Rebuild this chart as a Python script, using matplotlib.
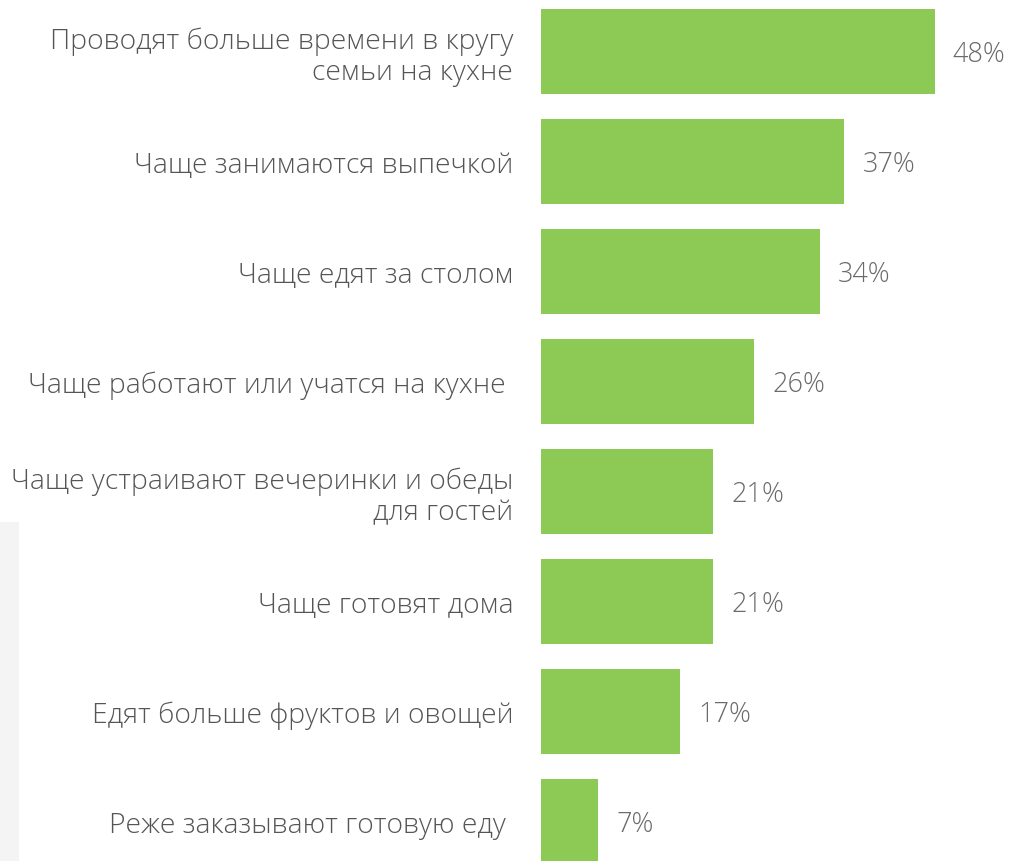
import matplotlib
matplotlib.use("Agg")
import matplotlib.pyplot as plt
from matplotlib.patches import Rectangle

categories = [
    "Проводят больше времени в кругу\nсемьи на кухне",
    "Чаще занимаются выпечкой",
    "Чаще едят за столом",
    "Чаще работают или учатся на кухне ",
    "Чаще устраивают вечеринки и обеды\nдля гостей",
    "Чаще готовят дома",
    "Едят больше фруктов и овощей",
    "Реже заказывают готовую еду ",
]
values = [48, 37, 34, 26, 21, 21, 17, 7]
value_labels = ["48%", "37%", "34%", "26%", "21%", "21%", "17%", "7%"]

W, H = 1010, 862
fig = plt.figure(figsize=(W / 100, H / 100), dpi=100)
fig.patch.set_facecolor("white")

# light gray panel at the left edge
fig.patches.append(Rectangle((0, 0), 19 / W, (H - 523) / H, transform=fig.transFigure,
                             facecolor="#f4f4f4", edgecolor="none", zorder=0))

left_px = 541
ax = fig.add_axes([left_px / W, 0, 1 - left_px / W, 1])
ax.set_facecolor("none")
px_per_unit = 8.2
ax.set_xlim(0, (W - left_px) / px_per_unit)
ax.set_ylim((H - 52.5) / 110, -52.5 / 110)

y = list(range(len(values)))
ax.barh(y, values, height=85 / 110, color="#8cc955", edgecolor="none")

font = dict(family=["Open Sans", "DejaVu Sans"], weight="light")
for yi, v, lab in zip(y, values, value_labels):
    ax.annotate(lab, (v, yi + 0.02), xytext=(13, 0), textcoords="offset points",
                ha="left", va="center", fontsize=19.5, color="#6a6a6a", **font)

ax.set_yticks(y)
ax.set_yticklabels(categories, fontsize=20.3, color="#555555", linespacing=1.15, **font)
ax.tick_params(axis="y", length=0, pad=20)
ax.set_xticks([])
for s in ax.spines.values():
    s.set_visible(False)

fig.savefig("out.png", dpi=100, facecolor="white")
